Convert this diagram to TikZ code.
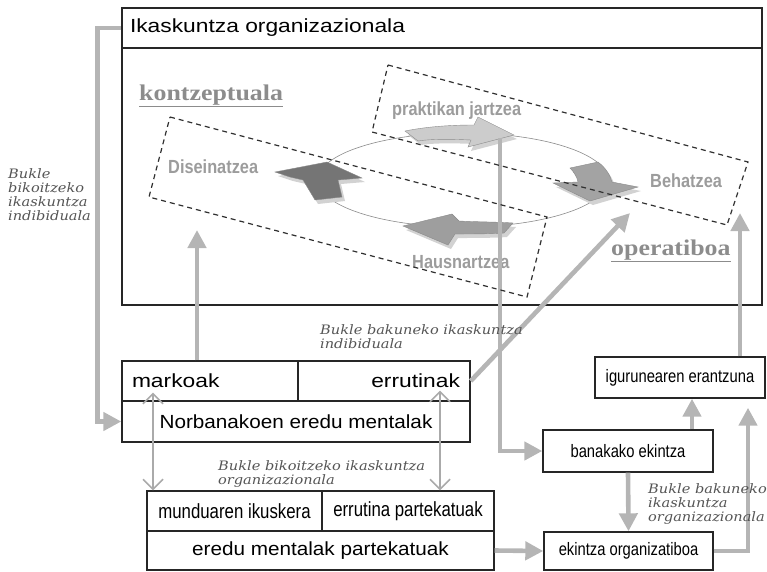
\documentclass[tikz,border=0pt]{standalone}
\usepackage{fontspec}
\setmainfont{Liberation Sans}
\newfontfamily\widesans[FakeStretch=1.2]{Liberation Sans}
\newfontfamily\midsans[FakeStretch=1.09]{Liberation Sans}
\newfontfamily\narrowsans[FakeStretch=0.82]{Liberation Sans}
\newfontfamily\labelsans[FakeStretch=0.86]{Liberation Sans}
\newfontfamily\headserif[FakeStretch=1.15]{Liberation Serif}
\newfontfamily\loopserif[FakeStretch=1.12]{DejaVu Serif}
\usetikzlibrary{arrows.meta,calc}

\definecolor{boxc}{HTML}{262626}
\definecolor{flow}{HTML}{B5B5B5}
\definecolor{thinflow}{HTML}{AAAAAA}
\definecolor{cyclelbl}{HTML}{9C9C9C}
\definecolor{headlbl}{HTML}{8C8C8C}
\definecolor{looptxt}{HTML}{555555}
\definecolor{dashc}{HTML}{303030}
\definecolor{ringc}{HTML}{8A8A8A}
\definecolor{shadowc}{HTML}{D2D2D2}

\tikzset{
  box/.style={draw=boxc, line width=1.4pt, inner sep=0pt, minimum height=40pt},
  flowline/.style={draw=flow, line width=4.6pt},
  flowarrow/.style={flowline, -{Triangle[length=18pt,width=18pt]}},
  barb/.tip={Straight Barb[length=10pt,width=20pt,line width=1.5pt]},
  twoway/.style={draw=thinflow, line width=1.5pt, barb-barb},
  phase/.style={draw=dashc, line width=1.2pt, dash pattern=on 5pt off 4pt},
  cyclelabel/.style={text=cyclelbl, font=\labelsans\bfseries\fontsize{19}{22}\selectfont, inner sep=0pt, anchor=base west},
  headlabel/.style={text=headlbl, font=\headserif\bfseries\fontsize{22.5}{26}\selectfont, inner sep=0pt, anchor=base west},
  looplabel/.style={text=looptxt, font=\loopserif\itshape\fontsize{13}{14}\selectfont, align=left, inner sep=0pt, anchor=base west},
  blockarrow/.style={draw=ringc, line width=0.4pt},
  blockshadow/.style={fill=shadowc, draw=none}
}

\begin{document}
\begin{tikzpicture}[x=1pt, y=-1pt]
\useasboundingbox (0,0) rectangle (767,571);

% organisational learning frame
\node[box, minimum width=640pt, minimum height=257pt] (frame) at (442,176.5) {};
\node[box, minimum width=640pt, text width=624pt, inner xsep=8pt, align=left,
      font=\widesans\fontsize{19}{22}\selectfont] (title) at (442,28) {Ikaskuntza organizazionala};

% individual mental models
\node[box, minimum width=176pt, text width=156pt, inner xsep=10pt, align=left,
      font=\widesans\fontsize{19}{22}\selectfont] (markoak) at (210,381) {markoak};
\node[box, minimum width=172pt, text width=152pt, inner xsep=10pt, align=right,
      font=\widesans\fontsize{19}{22}\selectfont] (errutinak) at (384,381) {errutinak};
\node[box, minimum width=348pt, minimum height=41pt,
      font=\midsans\fontsize{19}{22}\selectfont] (norban) at (296,421.5) {Norbanakoen eredu mentalak};

% shared mental models
\node[box, minimum width=175pt, font=\narrowsans\fontsize{20.5}{24}\selectfont] (mundu) at (234.5,511) {munduaren ikuskera};
\node[box, minimum width=172pt, font=\narrowsans\fontsize{20.5}{24}\selectfont] (errpart) at (408,511) {errutina partekatuak};
\node[box, minimum width=347pt, minimum height=39pt,
      font=\midsans\fontsize{19}{22}\selectfont] (eredu) at (320.5,550.5) {eredu mentalak partekatuak};

% actions and response
\node[box, minimum width=170pt, minimum height=42pt, font=\narrowsans\fontsize{18}{22}\selectfont] (banakako) at (628,451) {banakako ekintza};
\node[box, minimum width=170pt, minimum height=41pt, font=\narrowsans\fontsize{18}{22}\selectfont] (iguru) at (680,377.5) {igurunearen erantzuna};
\node[box, minimum width=169pt, minimum height=38pt, font=\narrowsans\fontsize{18}{22}\selectfont] (ekint) at (628.5,551) {ekintza organizatiboa};

% learning cycle
\draw[ringc, line width=0.6pt] (463,180) ellipse [x radius=145, y radius=47];

% top: praktikan jartzea
\fill[blockshadow, shift={(3,4)}] (405,131) .. controls (430,126) and (455,125) .. (474,125) -- (478,117) -- (514,135) -- (468,147) -- (471,140) .. controls (450,139) and (430,139) .. (418,141) -- cycle;
\filldraw[blockarrow, fill=black!20] (405,131) .. controls (430,126) and (455,125) .. (474,125) -- (478,117) -- (514,135) -- (468,147) -- (471,140) .. controls (450,139) and (430,139) .. (418,141) -- cycle;
% right: Behatzea
\fill[blockshadow, shift={(3,4)}] (570,168) -- (598,162) .. controls (606,168) and (610,175) .. (612,182) -- (638,187) -- (590,201) -- (553,183) -- (578,182) .. controls (577,177) and (574,172) .. cycle;
\filldraw[blockarrow, fill=black!36] (570,168) -- (598,162) .. controls (606,168) and (610,175) .. (612,182) -- (638,187) -- (590,201) -- (553,183) -- (578,182) .. controls (577,177) and (574,172) .. cycle;
% left: Diseinatzea
\fill[blockshadow, shift={(3,4)}] (275,172) -- (327,162) -- (362,178) -- (338,180) -- (342,197) -- (315,200) -- (303,180) -- (290,177) -- cycle;
\filldraw[blockarrow, fill=black!54] (275,172) -- (327,162) -- (362,178) -- (338,180) -- (342,197) -- (315,200) -- (303,180) -- (290,177) -- cycle;
% bottom: Hausnartzea
\fill[blockshadow, shift={(3,4)}] (403,226) -- (452,214) -- (459,221) .. controls (480,222) and (500,222) .. (513,223) -- (504,233) .. controls (490,234) and (470,234) .. (455,234) -- (448,245) -- cycle;
\filldraw[blockarrow, fill=black!38] (403,226) -- (452,214) -- (459,221) .. controls (480,222) and (500,222) .. (513,223) -- (504,233) .. controls (490,234) and (470,234) .. (455,234) -- (448,245) -- cycle;

% cycle labels
\node[cyclelabel] (lprak) at (392,115) {praktikan jartzea};
\node[cyclelabel] (ldis) at (168,173) {Diseinatzea};
\node[cyclelabel] (lbeh) at (650,187) {Behatzea};
\node[cyclelabel] (lhaus) at (412,268) {Hausnartzea};
\node[headlabel] (lkontz) at (139,100) {\underline{kontzeptuala}};
\node[headlabel] (loper) at (611,255) {\underline{operatiboa}};

% connector end points inside the frame
\coordinate (prak) at (500,138);
\coordinate (kontz) at (197,230);
\coordinate (oper) at (630,213);
\coordinate (behin) at (740,213);

% flows
\draw[flowarrow] (prak) |- (banakako.west);
\draw[flowarrow] ([xshift=-13pt]markoak.north) -- (kontz);
\draw[flowarrow] (errutinak.east) -- (oper);
\draw[flowarrow] ([xshift=60pt]iguru.north) -- (behin);
\draw[flowarrow] (title.west) -- ++(-24,0) |- (norban.west);
\draw[flowarrow] ([xshift=64pt]banakako.north) -- ([xshift=12pt]iguru.south);
\draw[flowarrow] (banakako.south) -- (ekint.north);
\draw[flowarrow, shorten >=9pt] (ekint.east) -| ([xshift=68pt]iguru.south);
\draw[flowarrow] (eredu.east) -- (ekint.west);

% two-way links between individual and shared models
\draw[twoway] ([xshift=-57pt,yshift=9pt]markoak.south) -- ([xshift=-81.5pt]mundu.north);
\draw[twoway] ([xshift=56pt,yshift=11pt]errutinak.south) -- ([xshift=32pt]errpart.north);

% phase groupings
\draw[phase] (170,117) -- (547,217) -- (527,297) -- (149,197) -- cycle;
\draw[phase] (388,65) -- (748,162) -- (727,225) -- (372,132) -- cycle;

% loop labels (anchored at the baseline of their last line)
\node[looplabel] (bbi) at (8,220) {Bukle\\bikoitzeko\\ikaskuntza\\indibiduala};
\node[looplabel] (bbak) at (320,348) {Bukle bakuneko ikaskuntza\\indibiduala};
\node[looplabel] (bbo) at (218,484) {Bukle bikoitzeko ikaskuntza\\organizazionala};
\node[looplabel] (bbako) at (648,521) {Bukle bakuneko\\ikaskuntza\\organizazionala};
\end{tikzpicture}
\end{document}
